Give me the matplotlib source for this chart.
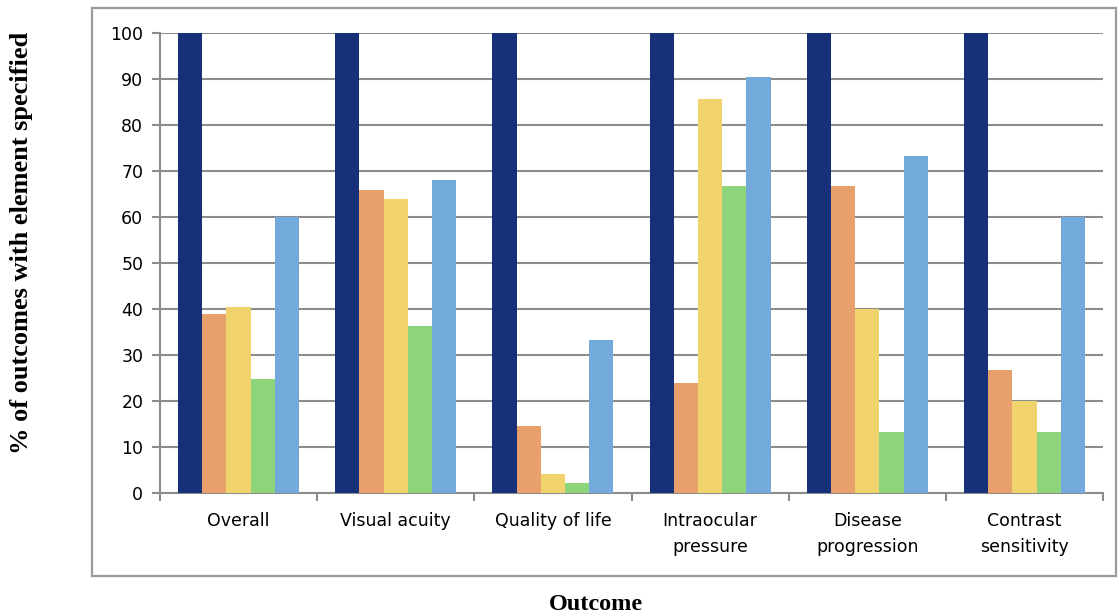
import matplotlib

matplotlib.use("Agg")
import matplotlib.pyplot as plt  # noqa: E402
import numpy as np               # noqa: E402
from matplotlib.patches import Rectangle  # noqa: E402

# % of outcomes with each element specified, per outcome domain
categories = ["Overall", "Visual acuity", "Quality of life",
              "Intraocular\npressure", "Disease\nprogression",
              "Contrast\nsensitivity"]
series_a = [100, 100, 100, 100, 100, 100]
series_b = [39.0, 65.9, 14.6, 23.8, 66.7, 26.7]
series_c = [40.4, 63.8, 4.2, 85.7, 40.0, 20.0]
series_d = [24.7, 36.2, 2.1, 66.7, 13.3, 13.3]
series_e = [60.0, 68.1, 33.3, 90.5, 73.3, 60.0]
yticks = list(range(0, 101, 10))

colors = ["#163179", "#E8A06C", "#F0D36C", "#8DD47A", "#72AADB"]
series = [series_a, series_b, series_c, series_d, series_e]

fig = plt.figure(figsize=(11.18, 6.14), dpi=100)
ax = fig.add_axes([0.1431, 0.1971, 0.8435, 0.7492])

# outer chart frame
fig.patches.append(Rectangle((0.0823, 0.0619), 0.916, 0.925,
                             transform=fig.transFigure, fill=False,
                             edgecolor="#9a9a9a", linewidth=1.6))

x = np.arange(len(categories)) + 0.5
w = 0.154
for k, (vals, c) in enumerate(zip(series, colors)):
    ax.bar(x + (k - 2) * w, vals, width=w, color=c, zorder=3, linewidth=0)

ax.set_xlim(0, len(categories))
ax.set_ylim(0, 100)
ax.set_yticks(yticks)
ax.yaxis.grid(True, color="#8c8c8c", linewidth=1.5, zorder=0)

# boundary ticks between categories, labels centred in each slot
ax.set_xticks(np.arange(len(categories) + 1))
ax.set_xticklabels([])
ax.set_xticks(x, minor=True)
ax.set_xticklabels(categories, minor=True, fontsize=12.5,
                   linespacing=1.55, family="DejaVu Sans")
ax.tick_params(axis="x", which="minor", length=0, pad=14)
ax.tick_params(axis="x", which="major", length=6, width=1.5,
               color="#8c8c8c", direction="out")
ax.tick_params(axis="y", length=6, width=1.5, color="#8c8c8c",
               pad=6, labelsize=12.5)

for side in ("top", "right"):
    ax.spines[side].set_visible(False)
for side in ("left", "bottom"):
    ax.spines[side].set_color("#8c8c8c")
    ax.spines[side].set_linewidth(1.5)

fig.text(0.019, 0.604, "% of outcomes with element specified",
         rotation=90, ha="center", va="center", fontsize=19,
         fontweight="bold", family="Liberation Serif")
fig.text(0.533, 0.016, "Outcome", ha="center", va="center",
         fontsize=17.5, fontweight="bold", family="Liberation Serif")

fig.savefig("out.png", dpi=100)
plt.close(fig)
